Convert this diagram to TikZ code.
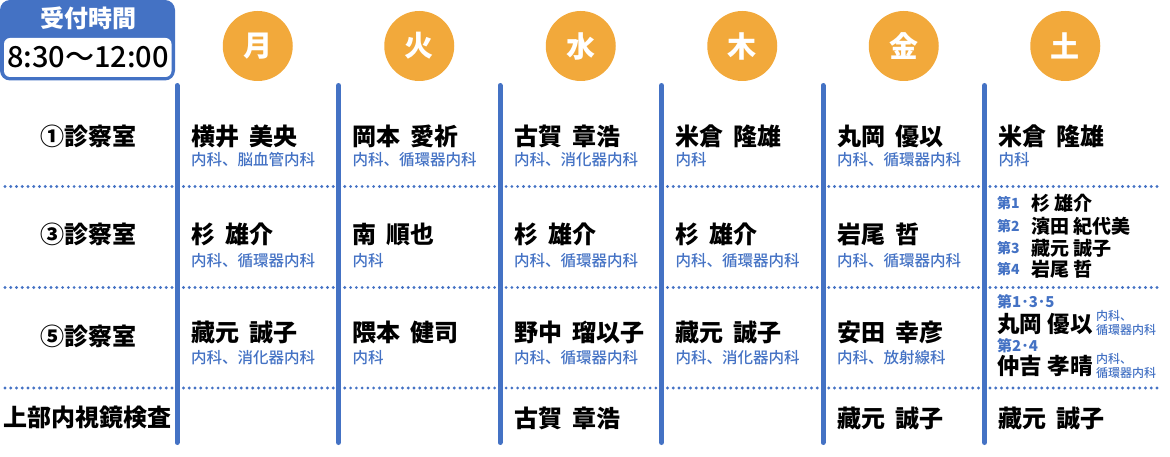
\documentclass[tikz,border=0pt]{standalone}
\usepackage{fontspec}
\setmainfont{Noto Sans CJK JP}
\newfontfamily\jpmed{Noto Sans CJK JP Medium}
\definecolor{hblue}{HTML}{4472C4}
\definecolor{horange}{HTML}{F2A93B}
\newcommand{\ngap}{\hspace{0.42em}}
\newcommand{\sgap}{\hspace{0.25em}}
\tikzset{
 lbl/.style={font=\bfseries\fontsize{24}{26}\selectfont, inner sep=0pt, anchor=center},
 nm/.style={font=\bfseries\fontsize{24}{26}\selectfont, inner sep=0pt, anchor=west},
 sp/.style={font=\jpmed\fontsize{15.5}{16}\selectfont, text=hblue, inner sep=0pt, anchor=west},
 dayc/.style={circle, fill=horange, minimum size=70pt, inner sep=0pt, text=white, font=\bfseries\fontsize{29}{30}\selectfont},
 vline/.style={draw=hblue, line width=5pt, line cap=round},
 dline/.style={draw=hblue, line width=3.2pt, line cap=round, dash pattern=on 0pt off 5.76pt},
 wk/.style={font=\bfseries\fontsize{14}{15}\selectfont, text=hblue, inner sep=0pt, anchor=west},
 wkb/.style={font=\bfseries\fontsize{15}{16}\selectfont, text=hblue, inner sep=0pt, anchor=west},
 snm/.style={font=\bfseries\fontsize{19}{20}\selectfont, inner sep=0pt, anchor=west},
 bnm/.style={font=\bfseries\fontsize{22.5}{24}\selectfont, inner sep=0pt, anchor=west},
 tsp/.style={font=\jpmed\fontsize{12}{14}\selectfont, text=hblue, inner sep=0pt, align=left, anchor=west},
}
\begin{document}
\begin{tikzpicture}[x=1pt,y=-1pt]
\useasboundingbox (0,0) rectangle (1170,457);
% header box
\fill[hblue, rounded corners=10pt] (0,0) rectangle (175,80.5);
\fill[white, rounded corners=6pt] (4,38) rectangle (171.5,77);
\node[font=\bfseries\fontsize{24}{26}\selectfont, text=white, inner sep=0pt] (hd) at (88,18) {受付時間};
\node[font=\jpmed\fontsize{29}{30}\selectfont, inner sep=0pt] (tm) at (88,57) {8:30〜12:00};
% day circles
\foreach \d [count=\i from 0] in {月,火,水,木,金,土}
  \node[dayc] (day\i) at ({257.75+161.5*\i},46) {\d};
% dotted separators
\foreach \y in {186.5,287.5,388}
  \draw[dline] (5,\y) -- (1157,\y);
% vertical lines
\foreach \i in {0,...,5}
  \draw[vline] ({177+161.5*\i},85.5) -- ({177+161.5*\i},442.5);
% row labels
\node[lbl] (r1) at (88,136) {①診察室};
\node[lbl] (r3) at (88,234) {③診察室};
\node[lbl] (r5) at (88,336) {⑤診察室};
\node[lbl] (r7) at (88,417) {上部内視鏡検査};
% row 1
\node[nm] (a1) at (191,136) {横井\ngap 美央};
\node[sp] (a1s) at (191,160) {内科、脳血管内科};
\node[nm] (a2) at (352.5,136) {岡本\ngap 愛祈};
\node[sp] (a2s) at (352.5,160) {内科、循環器内科};
\node[nm] (a3) at (514,136) {古賀\ngap 章浩};
\node[sp] (a3s) at (514,160) {内科、消化器内科};
\node[nm] (a4) at (675.5,136) {米倉\ngap 隆雄};
\node[sp] (a4s) at (675.5,160) {内科};
\node[nm] (a5) at (837,136) {丸岡\ngap 優以};
\node[sp] (a5s) at (837,160) {内科、循環器内科};
\node[nm] (a6) at (998.5,136) {米倉\ngap 隆雄};
\node[sp] (a6s) at (998.5,160) {内科};
% row 2
\node[nm] (b1) at (191,234) {杉\ngap 雄介};
\node[sp] (b1s) at (191,261) {内科、循環器内科};
\node[nm] (b2) at (352.5,234) {南\ngap 順也};
\node[sp] (b2s) at (352.5,261) {内科};
\node[nm] (b3) at (514,234) {杉\ngap 雄介};
\node[sp] (b3s) at (514,261) {内科、循環器内科};
\node[nm] (b4) at (675.5,234) {杉\ngap 雄介};
\node[sp] (b4s) at (675.5,261) {内科、循環器内科};
\node[nm] (b5) at (837,234) {岩尾\ngap 哲};
\node[sp] (b5s) at (837,261) {内科、循環器内科};
\node[wk] (b6w1) at (997,203) {第1};
\node[snm] (b6n1) at (1031,203) {杉\sgap 雄介};
\node[wk] (b6w2) at (997,226) {第2};
\node[snm] (b6n2) at (1031,226) {濱田\sgap 紀代美};
\node[wk] (b6w3) at (997,248) {第3};
\node[snm] (b6n3) at (1031,248) {藏元\sgap 誠子};
\node[wk] (b6w4) at (997,269) {第4};
\node[snm] (b6n4) at (1031,269) {岩尾\sgap 哲};
% row 3
\node[nm] (c1) at (191,332) {藏元\ngap 誠子};
\node[sp] (c1s) at (191,358) {内科、消化器内科};
\node[nm] (c2) at (352.5,332) {隈本\ngap 健司};
\node[sp] (c2s) at (352.5,358) {内科};
\node[nm] (c3) at (514,332) {野中\ngap 瑠以子};
\node[sp] (c3s) at (514,358) {内科、循環器内科};
\node[nm] (c4) at (675.5,332) {藏元\ngap 誠子};
\node[sp] (c4s) at (675.5,358) {内科、消化器内科};
\node[nm] (c5) at (837,332) {安田\ngap 幸彦};
\node[sp] (c5s) at (837,358) {内科、放射線科};
\node[wkb] (c6w1) at (997,302) {第1･3･5};
\node[bnm] (c6n1) at (997,324) {丸岡\sgap 優以};
\node[tsp] (c6s1) at (1096,322.5) {内科、\\循環器内科};
\node[wkb] (c6w2) at (997,346) {第2･4};
\node[bnm] (c6n2) at (997,366) {仲吉\sgap 孝晴};
\node[tsp] (c6s2) at (1096,365.5) {内科、\\循環器内科};
% row 4
\node[nm] (d3) at (514,418) {古賀\ngap 章浩};
\node[nm] (d5) at (837,418) {藏元\ngap 誠子};
\node[nm] (d6) at (998.5,418) {藏元\ngap 誠子};
\end{tikzpicture}
\end{document}
